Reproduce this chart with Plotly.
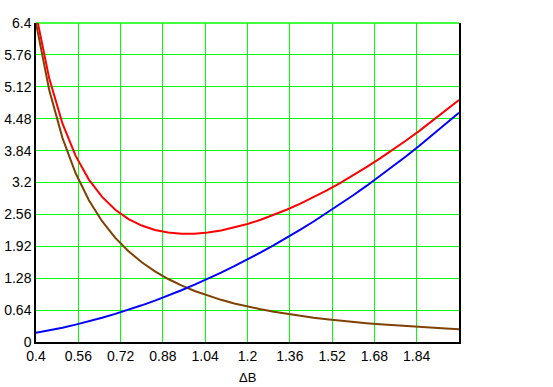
import plotly.graph_objects as go

delta_b = [0.40, 0.45, 0.50, 0.55, 0.60, 0.65, 0.70, 0.75, 0.80, 0.85, 0.90, 0.95,
           1.00, 1.05, 1.10, 1.15, 1.20, 1.25, 1.30, 1.35, 1.40, 1.45, 1.50, 1.55,
           1.60, 1.65, 1.70, 1.75, 1.80, 1.85, 1.90, 1.95, 2.00]

blue_vals = [0.184, 0.233, 0.288, 0.348, 0.414, 0.486, 0.564, 0.647, 0.736, 0.831, 0.932, 1.038,
             1.150, 1.268, 1.392, 1.521, 1.656, 1.797, 1.944, 2.096, 2.254, 2.418, 2.588, 2.763,
             2.944, 3.131, 3.324, 3.522, 3.726, 3.936, 4.152, 4.373, 4.600]

brown_vals = [6.400, 5.057, 4.096, 3.385, 2.844, 2.424, 2.090, 1.820, 1.600, 1.417, 1.264, 1.135,
              1.024, 0.929, 0.846, 0.774, 0.711, 0.655, 0.606, 0.562, 0.522, 0.487, 0.455, 0.426,
              0.400, 0.376, 0.354, 0.334, 0.316, 0.299, 0.284, 0.269, 0.256]

red_vals = [6.584, 5.290, 4.384, 3.733, 3.258, 2.910, 2.654, 2.467, 2.336, 2.248, 2.196, 2.173,
            2.174, 2.197, 2.238, 2.295, 2.367, 2.452, 2.550, 2.658, 2.776, 2.905, 3.043, 3.189,
            3.344, 3.507, 3.678, 3.856, 4.042, 4.235, 4.436, 4.642, 4.856]

x_ticks = [0.4, 0.56, 0.72, 0.88, 1.04, 1.2, 1.36, 1.52, 1.68, 1.84]
x_tick_labels = ["0.4", "0.56", "0.72", "0.88", "1.04", "1.2", "1.36", "1.52", "1.68", "1.84"]
y_ticks = [0, 0.64, 1.28, 1.92, 2.56, 3.2, 3.84, 4.48, 5.12, 5.76, 6.4]
y_tick_labels = ["0", "0.64", "1.28", "1.92", "2.56", "3.2", "3.84", "4.48", "5.12", "5.76", "6.4"]

fig = go.Figure()
fig.add_trace(go.Scatter(x=delta_b, y=brown_vals, mode="lines",
                         line=dict(color="#804000", width=2), showlegend=False))
fig.add_trace(go.Scatter(x=delta_b, y=blue_vals, mode="lines",
                         line=dict(color="#0000FF", width=2), showlegend=False))
fig.add_trace(go.Scatter(x=delta_b, y=red_vals, mode="lines",
                         line=dict(color="#FF0000", width=2), showlegend=False))

font = dict(family="Liberation Sans, Arial, sans-serif", size=14, color="black")

fig.update_layout(
    template="none",
    width=553, height=387,
    margin=dict(l=36, r=94, t=22.5, b=44.5, autoexpand=False),
    paper_bgcolor="white", plot_bgcolor="white",
    font=font,
    xaxis=dict(range=[0.4, 2.0], tickvals=x_ticks, ticktext=x_tick_labels,
               showgrid=True, gridcolor="#00FF00", gridwidth=1,
               minor=dict(showgrid=False),
               showline=True, linecolor="black", linewidth=1.5, mirror=False,
               zeroline=False, ticks="", ticklen=0, automargin=False,
               tickfont=font),
    yaxis=dict(range=[0, 6.4], tickvals=y_ticks, ticktext=y_tick_labels,
               showgrid=True, gridcolor="#00FF00", gridwidth=1,
               minor=dict(showgrid=False),
               showline=True, linecolor="black", linewidth=1.5, mirror=True,
               zeroline=False, ticks="", ticklen=0, automargin=False,
               tickfont=font),
    shapes=[dict(type="line", xref="paper", yref="paper", x0=0, x1=1, y0=1, y1=1,
                 line=dict(color="#00FF00", width=1.5), layer="below")],
    annotations=[dict(text="ΔB", xref="paper", yref="paper", x=0.5, y=-0.111,
                      showarrow=False, font=dict(family=font["family"], size=13, color="black"),
                      xanchor="center", yanchor="middle")],
)

fig.write_html("out.html", config={"displayModeBar": False},
               post_script="document.body.style.margin='0';")
